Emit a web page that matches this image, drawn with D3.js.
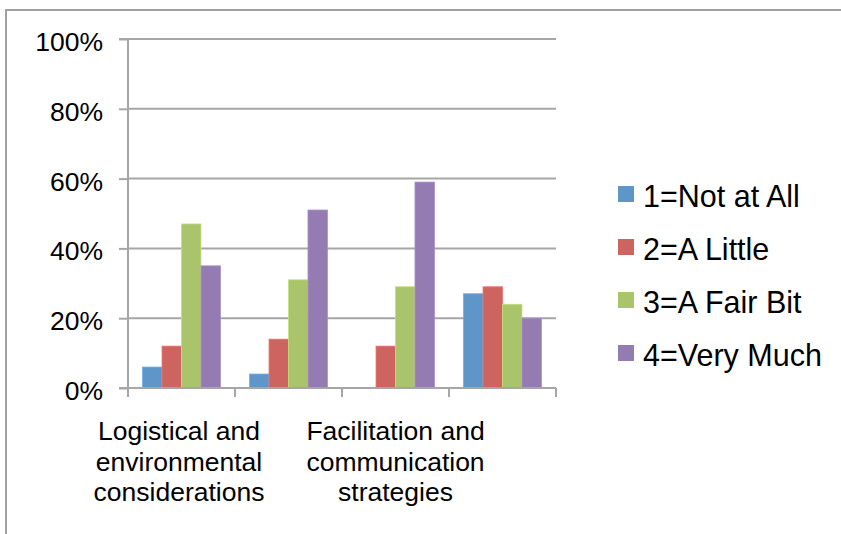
<!DOCTYPE html>
<html>
<head>
<meta charset="utf-8">
<script src="https://cdn.jsdelivr.net/npm/d3@7"></script>
<style>
  html, body { margin: 0; padding: 0; background: #ffffff; }
  svg { display: block; }
</style>
</head>
<body>
<svg id="chart" width="841" height="534"></svg>
<script>
// ---- data ----
const categories = [
  "Logistical and environmental considerations",
  "(category 2)",
  "Facilitation and communication strategies",
  "(category 4)"
];
// label lines actually shown under the axis (every other label is skipped)
const categoryLabelLines = [
  ["Logistical and", "environmental", "considerations"],
  [],
  ["Facilitation and", "communication", "strategies"],
  []
];
const seriesNames = ["1=Not at All", "2=A Little", "3=A Fair Bit", "4=Very Much"];
const notAtAll  = [0.06, 0.04, 0.00, 0.27];
const aLittle   = [0.12, 0.14, 0.12, 0.29];
const aFairBit  = [0.47, 0.31, 0.29, 0.24];
const veryMuch  = [0.35, 0.51, 0.59, 0.20];
const seriesValues = [notAtAll, aLittle, aFairBit, veryMuch];
const seriesColors = ["#5F96C9", "#CD645F", "#A9C46B", "#947BB1"];
const yTickValues = [0, 0.2, 0.4, 0.6, 0.8, 1.0];

const FONT = "'Liberation Sans', Arial, sans-serif";

const svg = d3.select("#chart");
const plot = { left: 128, right: 556, top: 39, bottom: 388 };
const gridColor = "#a6a6a6";

// outer chart border (continues past the right and bottom edges)
svg.append("rect")
  .attr("x", 6).attr("y", 10)
  .attr("width", 900).attr("height", 600)
  .attr("fill", "none")
  .attr("stroke", "#a0a0a0")
  .attr("stroke-width", 2);

const x0 = d3.scaleBand()
  .domain(d3.range(categories.length))
  .range([plot.left, plot.right]);

const x1 = d3.scaleBand()
  .domain(d3.range(seriesNames.length))
  .range([x0.bandwidth() * 0.136, x0.bandwidth() * (1 - 0.136)]);

const y = d3.scaleLinear().domain([0, 1]).range([plot.bottom, plot.top]);

// gridlines
svg.append("g")
  .selectAll("line")
  .data(yTickValues.filter(v => v > 0))
  .join("line")
  .attr("x1", plot.left).attr("x2", plot.right)
  .attr("y1", d => y(d)).attr("y2", d => y(d))
  .attr("stroke", gridColor).attr("stroke-width", 2);

// bars
const groups = svg.append("g")
  .selectAll("g")
  .data(categories.map((c, i) => i))
  .join("g")
  .attr("transform", i => `translate(${x0(i)},0)`);

groups.selectAll("rect")
  .data(i => seriesValues.map((vals, s) => ({ s, v: vals[i] })))
  .join("rect")
  .attr("x", d => x1(d.s))
  .attr("width", x1.bandwidth())
  .attr("y", d => y(d.v))
  .attr("height", d => y(0) - y(d.v))
  .attr("fill", d => seriesColors[d.s])
  .attr("stroke", d => d3.color(seriesColors[d.s]).brighter(0.4))
  .attr("stroke-width", d => d.v > 0 ? 0.8 : 0);

// y axis
const yAxis = d3.axisLeft(y)
  .tickValues(yTickValues)
  .tickFormat(d3.format(".0%"))
  .tickSize(9)
  .tickPadding(16);
const gy = svg.append("g")
  .attr("transform", `translate(${plot.left},0)`)
  .call(yAxis);
gy.select(".domain").attr("stroke", gridColor).attr("stroke-width", 2)
  .attr("d", `M-9,${plot.top}H0V${plot.bottom}H-9`);
gy.selectAll(".tick line").attr("stroke", gridColor).attr("stroke-width", 2);
gy.selectAll(".tick text")
  .style("font-family", FONT)
  .style("font-size", "26.5px")
  .attr("fill", "#000")
  .attr("dy", 11.5)
  .attr("x", -25);

// x axis
const gx = svg.append("g")
  .attr("transform", `translate(0,${plot.bottom})`)
  .call(d3.axisBottom(x0).tickSize(0).tickFormat(""));
gx.select(".domain").attr("stroke", gridColor).attr("stroke-width", 2)
  .attr("d", `M${plot.left},0H${plot.right}`);
gx.selectAll(".tick").remove();
const boundaries = d3.range(categories.length + 1).map(i =>
  i < categories.length ? x0(i) : x0(categories.length - 1) + x0.bandwidth());
gx.selectAll("line.bound")
  .data(boundaries)
  .join("line")
  .attr("class", "bound")
  .attr("x1", d => d).attr("x2", d => d)
  .attr("y1", 0).attr("y2", 9)
  .attr("stroke", gridColor).attr("stroke-width", 2);

// category labels
const labelG = svg.append("g");
categoryLabelLines.forEach((lines, i) => {
  const cx = x0(i) + x0.bandwidth() / 2 - (i === 0 ? 2.5 : 0);
  const t = labelG.append("text")
    .attr("text-anchor", "middle")
    .style("font-family", FONT)
    .style("font-size", "26.5px")
    .attr("fill", "#000")
    .attr("x", cx).attr("y", 440);
  lines.forEach((ln, k) => {
    t.append("tspan").attr("x", cx).attr("y", 440 + k * 30.5).text(ln);
  });
});

// legend
const legend = svg.append("g").attr("transform", "translate(618,186)");
const item = legend.selectAll("g")
  .data(seriesNames)
  .join("g")
  .attr("transform", (d, i) => `translate(0,${i * 53})`);
item.append("rect")
  .attr("width", 16).attr("height", 16)
  .attr("fill", (d, i) => seriesColors[i]);
item.append("text")
  .attr("x", 25).attr("y", 21)
  .style("font-family", FONT)
  .style("font-size", "30.5px")
  .attr("fill", "#000")
  .text(d => d);
</script>
</body>
</html>
